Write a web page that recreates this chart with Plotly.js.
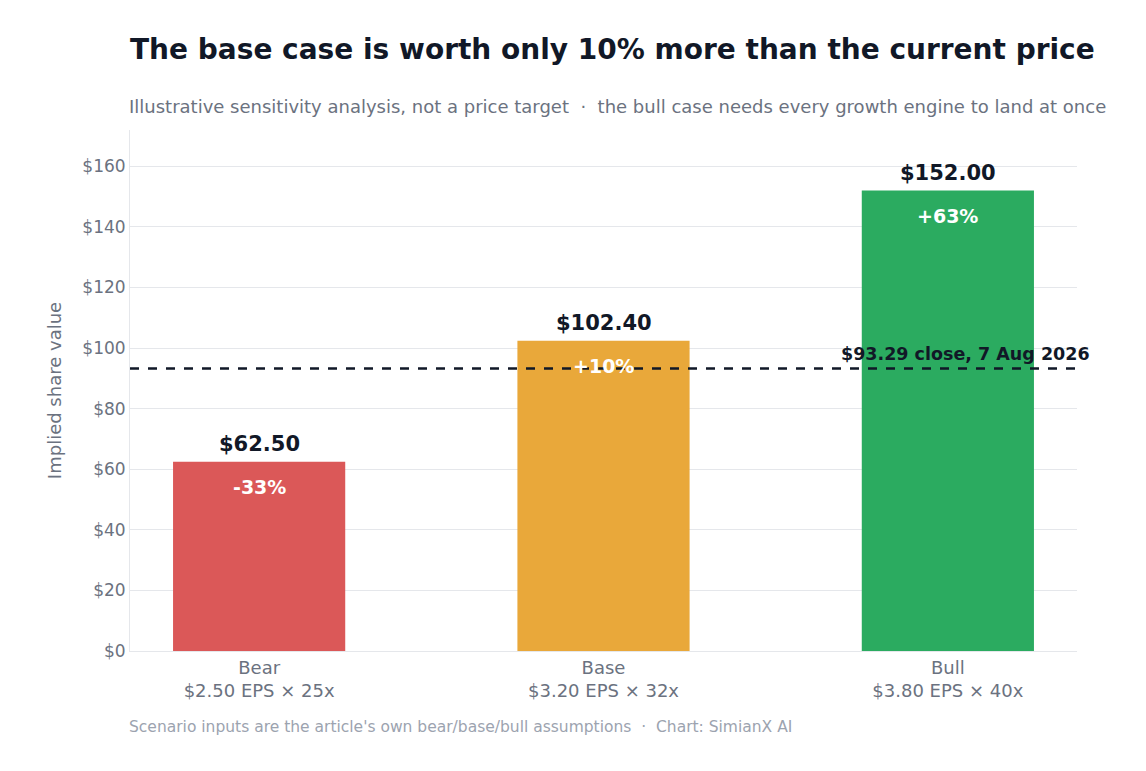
<!DOCTYPE html>
<html><head><meta charset="utf-8">
<script src="https://cdn.plot.ly/plotly-3.0.1.min.js"></script>
<style>body{margin:0;background:#fff}</style>
</head><body>
<div id="chart" style="width:1146px;height:771px"></div>
<script>
// Scenario data
var scenarios = ['Bear', 'Base', 'Bull'];
var inputs = ['$2.50 EPS × 25x', '$3.20 EPS × 32x', '$3.80 EPS × 40x'];
var values = [62.50, 102.40, 152.00];
var changes = ['-33%', '+10%', '+63%'];
var colors = ['#db5858', '#e9a83a', '#2bab60'];
var closePrice = 93.29;
var closeLabel = '$93.29 close, 7 Aug 2026';
var yTicks = [0, 20, 40, 60, 80, 100, 120, 140, 160];

var labels = scenarios.map(function (s, i) { return s + '<br>' + inputs[i]; });

var trace1 = {
  type: 'bar',
  x: labels,
  y: values,
  width: 0.5,
  marker: {color: colors},
  hoverinfo: 'skip',
};

var annots = [];
for (let i = 0; i < values.length; i++) {
  annots.push({
    x: labels[i], y: values[i], yanchor: 'bottom', yshift: 4,
    text: '<b>$' + values[i].toFixed(2) + '</b>', showarrow: false,
    font: {size: 21, color: '#111827'},
  });
  annots.push({
    x: labels[i], y: values[i], yanchor: 'top', yshift: -12,
    text: '<b>' + changes[i] + '</b>', showarrow: false,
    font: {size: 19, color: '#ffffff'},
  });
}
annots.push({
  x: 1.016, xref: 'paper', xanchor: 'right', y: closePrice, yanchor: 'bottom', yshift: 2,
  text: '<b>' + closeLabel + '</b>', showarrow: false,
  font: {size: 17.5, color: '#111827'},
});
annots.push({
  x: 0, xref: 'paper', xanchor: 'left', xshift: -3, y: -0.145, yref: 'paper', yanchor: 'middle',
  text: "Scenario inputs are the article's own bear/base/bull assumptions  ·  Chart: SimianX AI",
  showarrow: false, font: {size: 15.5, color: '#9ca3af'},
});
annots.push({
  x: 0, xref: 'paper', xanchor: 'left', xshift: -3, y: 1.046, yref: 'paper', yanchor: 'middle',
  text: 'Illustrative sensitivity analysis, not a price target  ·  the bull case needs every growth engine to land at once',
  showarrow: false, font: {size: 18, color: '#6b7280'},
});

var layout = {
  width: 1146, height: 771,
  margin: {l: 130, r: 69, t: 130, b: 120},
  font: {family: 'DejaVu Sans, sans-serif', color: '#6b7280'},
  paper_bgcolor: '#fff', plot_bgcolor: '#fff',
  title: {text: '<b>The base case is worth only 10% more than the current price</b>',
    x: 0, xref: 'paper', xanchor: 'left', y: 0.936, yanchor: 'middle',
    font: {size: 28, color: '#111827'}},
  showlegend: false,
  xaxis: {tickfont: {size: 18, color: '#6b7280'}, showline: true, linecolor: '#e5e7eb',
    ticks: '', fixedrange: true, range: [-0.375, 2.375]},
  yaxis: {range: [0, 172], tickmode: 'array', tickvals: yTicks,
    ticktext: yTicks.map(function (v) { return '$' + v; }),
    tickfont: {size: 17, color: '#6b7280'}, gridcolor: '#e5e7eb',
    showline: true, linecolor: '#e5e7eb', zeroline: false, ticks: '',
    title: {text: 'Implied share value', font: {size: 18, color: '#6b7280'}, standoff: 16}},
  shapes: [{type: 'line', xref: 'paper', x0: 0, x1: 1, y0: closePrice, y1: closePrice,
    line: {color: '#111827', width: 2.5, dash: 'dash'}}],
  annotations: annots,
};

Plotly.newPlot('chart', [trace1], layout, {displayModeBar: false, staticPlot: true});
</script>
</body></html>
